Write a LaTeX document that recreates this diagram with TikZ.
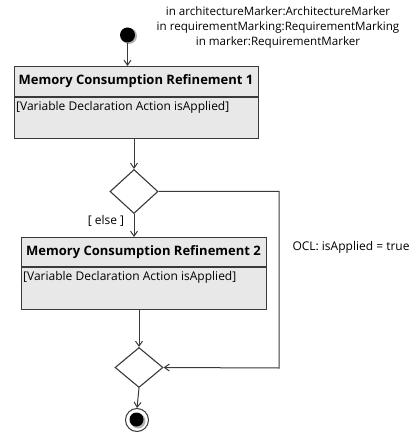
\documentclass[tikz,border=0pt]{standalone}
\usepackage{fontspec}
\setmainfont{Open Sans}
\usetikzlibrary{arrows.meta,shapes.geometric}
\definecolor{boxfill}{HTML}{E8E8E8}
\definecolor{linec}{HTML}{3A3A3A}
\tikzset{
  conn/.style={draw=linec, line width=1pt, -{Straight Barb[length=5pt,width=7pt]}},
  actbox/.style={draw=linec, line width=1.1pt, fill=boxfill},
  dec/.style={diamond, draw=linec, line width=1.1pt, fill=white, minimum width=48pt, minimum height=44pt, inner sep=0pt, aspect=1.1},
  txt/.style={font=\fontsize{12}{14}\selectfont, text=black, inner sep=0pt},
  ttl/.style={font=\fontsize{13}{15}\selectfont\bfseries, text=black, inner sep=0pt},
}
\begin{document}
\begin{tikzpicture}[x=1pt,y=-1pt]
\useasboundingbox (0,0) rectangle (412,435);
% top text
\node[txt, align=center, font=\fontsize{11.6}{15}\selectfont] (params) at (278,27) {in architectureMarker:ArchitectureMarker\\in requirementMarking:RequirementMarking\\in marker:RequirementMarker};
% initial node
\fill[gray!60] (129,36) circle (8);
\node[circle, fill=black, minimum size=15pt, inner sep=0pt] (init) at (127.5,35) {};
% box 1
\node[actbox, minimum width=244pt, minimum height=72pt, anchor=north west, inner sep=0pt] (a1) at (14,66) {};
\draw[linec, line width=1.6pt] (14,97) -- (258,97);
\node[ttl] (t1) at (136,81) {Memory Consumption Refinement 1};
\node[txt, anchor=west] (b1) at (16,107) {[Variable Declaration Action isApplied]};
% decision 1
\node[dec] (d1) at (134,191.5) {};
% box 2
\node[actbox, minimum width=245pt, minimum height=72pt, anchor=north west, inner sep=0pt] (a2) at (21,237) {};
\draw[linec, line width=1.6pt] (21,267) -- (266,267);
\node[ttl] (t2) at (143.5,252) {Memory Consumption Refinement 2};
\node[txt, anchor=west] (b2) at (23,277) {[Variable Declaration Action isApplied]};
% decision 2
\node[dec, minimum height=40pt] (d2) at (139,367.5) {};
% final node
\node[circle, draw=linec, line width=1pt, fill=white, minimum size=23pt, inner sep=0pt] (fin) at (137,420) {};
\fill[gray!60] (138,421) circle (7.5);
\node[circle, fill=black, minimum size=14pt, inner sep=0pt] (finc) at (136.5,419.5) {};
% connectors
\coordinate (c1) at (279,191.5);
\coordinate (c2) at (279,368);
\draw[conn] (init.south) -- (init.south |- a1.north);
\draw[conn] (a1.south -| d1.north) -- (d1.north);
\draw[conn] (d1.south) -- (d1.south |- a2.north);
\draw[conn] (a2.south -| d2.north) -- (d2.north);
\draw[conn] (d1.east) -- (c1) -- (c2) -- (d2.east);
\draw[conn] (d2.south) -- (fin.north);
% labels
\node[txt] (else) at (106,221) {[ else ]};
\node[txt] (ocl) at (351,247) {OCL: isApplied = true};
\end{tikzpicture}
\end{document}
